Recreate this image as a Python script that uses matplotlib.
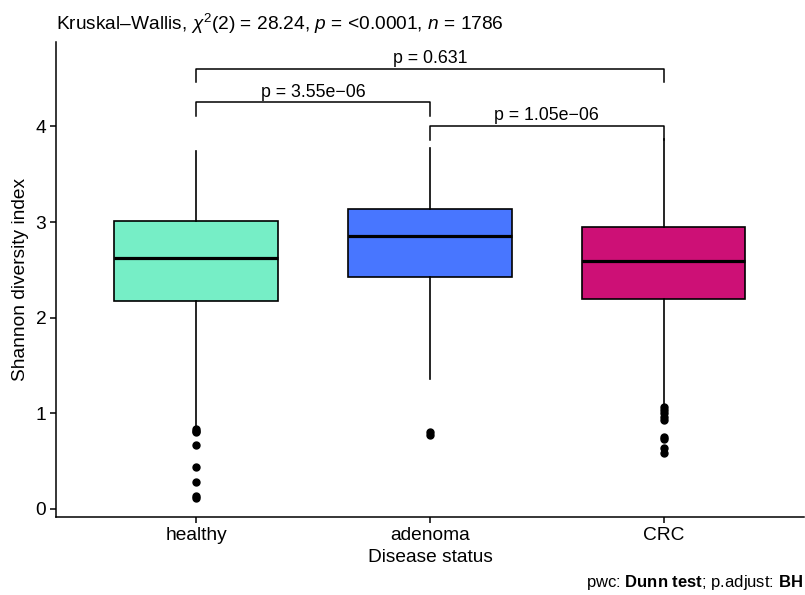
import matplotlib
matplotlib.use("Agg")
import matplotlib.pyplot as plt

plt.rcParams['font.family'] = ['Liberation Sans', 'DejaVu Sans']
plt.rcParams['mathtext.fontset'] = 'custom'
plt.rcParams['mathtext.rm'] = 'Liberation Sans'
plt.rcParams['mathtext.it'] = 'Liberation Sans:italic'
plt.rcParams['mathtext.bf'] = 'Liberation Sans:bold'

# group summaries (Shannon index)
groups = ['healthy', 'adenoma', 'CRC']
colors = ['#76EEC6', '#4876FF', '#CD1076']
q1 = [2.17, 2.43, 2.20]
median = [2.62, 2.85, 2.59]
q3 = [3.01, 3.14, 2.95]
whislo = [0.87, 1.36, 1.10]
whishi = [3.74, 3.77, 3.87]
outliers = [
    [0.84, 0.82, 0.80, 0.67, 0.44, 0.28, 0.13, 0.11],
    [0.80, 0.77],
    [1.07, 1.03, 1.00, 0.96, 0.93, 0.75, 0.73, 0.64, 0.58],
]

# pairwise Dunn comparisons
pairs = [(1, 2), (2, 3), (1, 3)]
pair_labels = ['p = 3.55e\u221206', 'p = 1.05e\u221206', 'p = 0.631']
pair_y = [4.25, 4.00, 4.60]
tip = 0.14

fig = plt.figure(figsize=(8.05, 5.95), dpi=100)
ax = fig.add_axes([0.0696, 0.131, 0.929, 0.798])

stats = []
for i, g in enumerate(groups):
    stats.append(dict(label=g, q1=q1[i], med=median[i], q3=q3[i],
                      whislo=whislo[i], whishi=whishi[i], fliers=outliers[i]))

bp = ax.bxp(stats, positions=[1, 2, 3], widths=0.7, patch_artist=True,
            showcaps=False,
            boxprops=dict(edgecolor='black', linewidth=1.2),
            medianprops=dict(color='black', linewidth=2.3),
            whiskerprops=dict(color='black', linewidth=1.2),
            flierprops=dict(marker='o', markerfacecolor='black',
                            markeredgecolor='black', markersize=5))
for patch, c in zip(bp['boxes'], colors):
    patch.set_facecolor(c)

for (a, b), lab, y in zip(pairs, pair_labels, pair_y):
    ax.plot([a, a, b, b], [y - tip, y, y, y - tip], color='black', linewidth=1.1)
    ax.text((a + b) / 2, y + 0.02, lab, ha='center', va='bottom', fontsize=12.8)

ax.set_xlim(0.4, 3.6)
ax.set_ylim(-0.085, 4.88)
ax.set_yticks([0, 1, 2, 3, 4])
ax.set_xticks([1, 2, 3])
ax.set_xticklabels(groups)
ax.tick_params(labelsize=13.8, length=4, width=1.1, colors='black', pad=3)
for s in ['top', 'right']:
    ax.spines[s].set_visible(False)
for s in ['left', 'bottom']:
    ax.spines[s].set_linewidth(1.1)

ax.set_xlabel('Disease status', fontsize=13.8, labelpad=4)
ax.set_ylabel('Shannon diversity index', fontsize=13.8, labelpad=5)

fig.text(0.0696, 0.959,
         r'Kruskal–Wallis, $\chi^2$(2) = 28.24, $\it{p}$ = <0.0001, $\it{n}$ = 1786',
         fontsize=13.8, ha='left', va='center')
fig.text(0.997, 0.021, r'pwc: $\bf{Dunn\ test}$; p.adjust: $\bf{BH}$',
         fontsize=12, ha='right', va='center')

fig.savefig('out.png', dpi=100)
